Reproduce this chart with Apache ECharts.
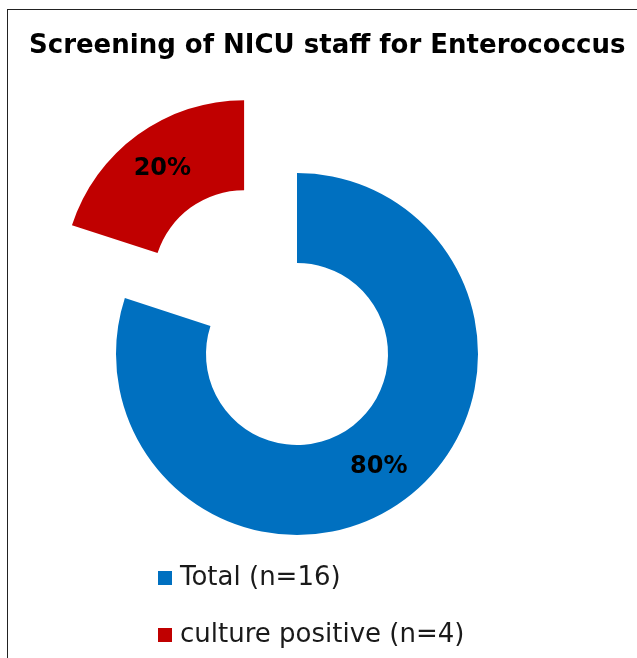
<!DOCTYPE html>
<html>
<head>
<meta charset="utf-8">
<script src="https://cdn.jsdelivr.net/npm/echarts@6/dist/echarts.min.js"></script>
<style>
  html, body { margin: 0; padding: 0; background: #fff; }
  #frame {
    position: absolute; left: 7px; top: 9px; width: 630px; height: 649px;
    border-top: 1.5px solid #222; border-left: 1.5px solid #222;
    box-sizing: border-box;
  }
  #chart { position: absolute; left: 0; top: 0; width: 637px; height: 658px; }
</style>
</head>
<body>
<div id="frame"></div>
<div id="chart"></div>
<script>
const categories = ['Total (n=16)', 'culture positive (n=4)'];
const values = [16, 4];
const colors = ['#0070C0', '#C00000'];
const explodedIndex = 1;

let myChart = echarts.init(document.getElementById('chart'));
const option = {
  animation: false,
  title: {
    text: 'Screening of NICU staff for Enterococcus',
    left: 24,
    top: 28,
    textStyle: {
      fontFamily: 'DejaVu Sans',
      fontWeight: 'bold',
      fontSize: 26,
      color: '#000'
    }
  },
  legend: {
    orient: 'vertical',
    left: 158,
    top: 565,
    padding: 0,
    itemWidth: 14,
    itemHeight: 14,
    itemGap: 31,
    icon: 'rect',
    selectedMode: false,
    textStyle: {
      fontFamily: 'DejaVu Sans',
      fontSize: 26,
      color: '#1a1a1a',
      padding: [0, 0, 0, 3]
    },
    data: categories
  },
  series: [
    {
      type: 'pie',
      center: [297, 354],
      radius: [91, 181],
      startAngle: 90,
      clockwise: true,
      selectedMode: 'single',
      selectedOffset: 90,
      avoidLabelOverlap: false,
      emphasis: { disabled: true },
      label: {
        position: 'inside',
        formatter: '{d}%',
        fontFamily: 'DejaVu Sans',
        fontWeight: 'bold',
        fontSize: 24,
        color: '#000'
      },
      labelLine: { show: false },
      data: categories.map((name, i) => ({
        name: name,
        value: values[i],
        selected: i === explodedIndex,
        itemStyle: { color: colors[i] }
      }))
    }
  ]
};
myChart.setOption(option);
</script>
</body>
</html>
